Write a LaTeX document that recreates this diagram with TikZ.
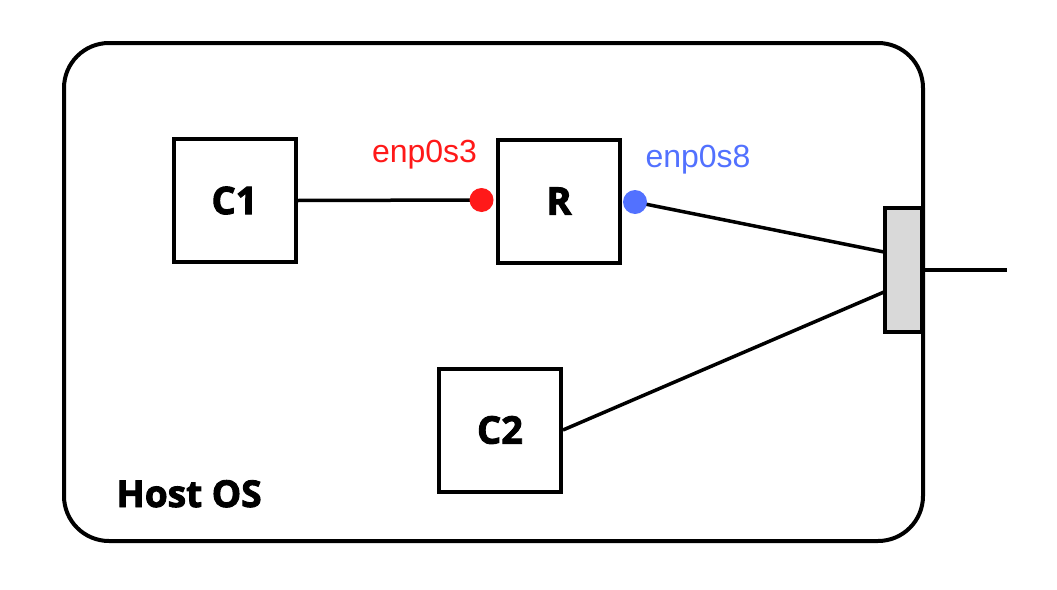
\documentclass[tikz,border=0pt]{standalone}
\usepackage{fontspec}
\setmainfont{Open Sans}[BoldFeatures={FakeBold=2.5}]
\newfontfamily\ifname{Liberation Sans}
\begin{document}
\begin{tikzpicture}[x=1pt,y=-1pt,
  box/.style={draw,line width=4pt,minimum width=122pt,minimum height=123pt,inner sep=0pt,font=\fontsize{38}{40}\selectfont\bfseries},
  wire/.style={line width=3.5pt},
  dot/.style={circle,inner sep=0pt,minimum size=24pt},
  iflabel/.style={font=\ifname\fontsize{32}{34}\selectfont}]
\useasboundingbox (0,0) rectangle (1057,589);
\node[draw,line width=4pt,rounded corners=45pt,minimum width=859pt,minimum height=498pt,inner sep=0pt] (host) at (493.5,292) {};
\node[anchor=base west,font=\fontsize{37}{40}\selectfont\bfseries] (hostlbl) at (113,507) {Host OS};
\node[box] (c1) at (234.5,200.5) {C1};
\node[box] (r) at (559,201) {R};
\node[box] (c2) at (500,430) {C2};
\node[draw,line width=4pt,fill={rgb,255:red,217;green,217;blue,217},minimum width=37pt,minimum height=124pt,inner sep=0pt] (port) at (903,270) {};
\coordinate (pa) at (884,252);
\coordinate (pb) at (884,292);
\coordinate (ext) at (1007,270);
\coordinate (d3) at (481.5,200);
\coordinate (d8) at (635,202);
\draw[wire] (c1.east) -- (d3);
\draw[wire] (d8) -- (pa);
\draw[wire] (c2.east) -- (pb);
\draw[wire] (port.east) -- (ext);
\node[dot,fill={rgb,255:red,255;green,25;blue,25}] (dot3) at (d3) {};
\node[dot,fill={rgb,255:red,82;green,113;blue,255}] (dot8) at (d8) {};
\node[iflabel,text={rgb,255:red,255;green,25;blue,25}] (l3) at (424.5,155) {enp0s3};
\node[iflabel,text={rgb,255:red,82;green,113;blue,255}] (l8) at (698,160) {enp0s8};
\end{tikzpicture}
\end{document}
